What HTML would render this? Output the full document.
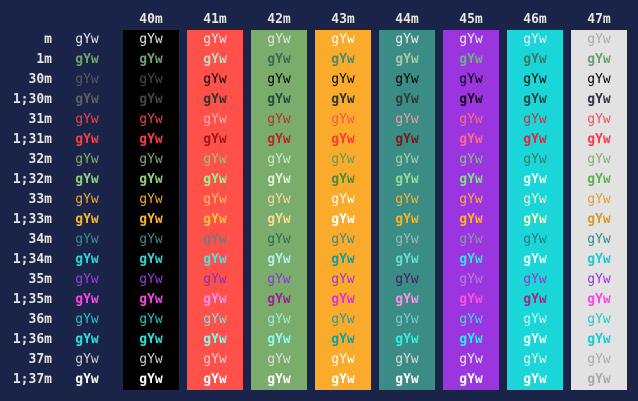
<!DOCTYPE html>
<html><head><meta charset="utf-8"><style>
body{margin:0;width:638px;height:401px;background:#1a2448;overflow:hidden;font-family:"DejaVu Sans Mono","Liberation Mono",monospace;font-size:13px;position:relative}
.strip{position:absolute;top:30px;height:360px;width:56px}
.h{position:absolute;top:11px;width:56px;text-align:center;color:#e6e6e6;font-weight:bold;line-height:18px}
.r{position:absolute;left:0;width:638px;height:20px;line-height:20px}
.r span{position:absolute;top:0;text-align:center;width:56px}
.r .l{left:0;width:52px;text-align:right;color:#e6e6e6;font-weight:bold}
.c0{left:59px}.c1{left:123px}.c2{left:187px}.c3{left:251px}.c4{left:315px}.c5{left:379px}.c6{left:443px}.c7{left:507px}.c8{left:571px}
.b{font-weight:bold}
</style></head><body>
<div class="strip" style="left:123px;background:#000"></div>
<div class="strip" style="left:187px;background:#ff5149"></div>
<div class="strip" style="left:251px;background:#7aac6c"></div>
<div class="strip" style="left:315px;background:#fbab2c"></div>
<div class="strip" style="left:379px;background:#3a8c84"></div>
<div class="strip" style="left:443px;background:#9b35e0"></div>
<div class="strip" style="left:507px;background:#1ad6d8"></div>
<div class="strip" style="left:571px;background:#e2e2e2"></div>
<div class="h" style="left:123px">40m</div><div class="h" style="left:187px">41m</div><div class="h" style="left:251px">42m</div><div class="h" style="left:315px">43m</div><div class="h" style="left:379px">44m</div><div class="h" style="left:443px">45m</div><div class="h" style="left:507px">46m</div><div class="h" style="left:571px">47m</div>

<div class="r" style="top:30px;color:#e8e8e8"><span class="l">m</span><span class="c0">gYw</span><span class="c1">gYw</span><span class="c2" style="color:#f0e8e8">gYw</span><span class="c3" style="color:#dde8dd">gYw</span><span class="c4" style="color:#fff">gYw</span><span class="c5" style="color:#eee">gYw</span><span class="c6" style="color:#eee">gYw</span><span class="c7" style="color:#eef">gYw</span><span class="c8" style="color:#aaa">gYw</span></div>
<div class="r b" style="top:50px;color:#6da46c"><span class="l">1m</span><span class="c0">gYw</span><span class="c1">gYw</span><span class="c2" style="color:#b8dcc0">gYw</span><span class="c3" style="color:#3a6a50">gYw</span><span class="c4" style="color:#4a8a6a">gYw</span><span class="c5" style="color:#a8c8a8">gYw</span><span class="c6" style="color:#70b080">gYw</span><span class="c7" style="color:#3a7a60">gYw</span><span class="c8" style="color:#6aa070">gYw</span></div>
<div class="r" style="top:70px;color:#5a5a5a"><span class="l">30m</span><span class="c0">gYw</span><span class="c1" style="color:#4a4a4a">gYw</span><span class="c2" style="color:#000">gYw</span><span class="c3" style="color:#000">gYw</span><span class="c4" style="color:#000">gYw</span><span class="c5" style="color:#000">gYw</span><span class="c6" style="color:#000">gYw</span><span class="c7" style="color:#000">gYw</span><span class="c8" style="color:#000">gYw</span></div>
<div class="r b" style="top:90px;color:#5a625a"><span class="l">1;30m</span><span class="c0">gYw</span><span class="c1" style="color:#3c4c3c">gYw</span><span class="c2" style="color:#2a3a30">gYw</span><span class="c3" style="color:#2a4a3a">gYw</span><span class="c4" style="color:#333">gYw</span><span class="c5" style="color:#2a4038">gYw</span><span class="c6" style="color:#1a0a20">gYw</span><span class="c7" style="color:#2a4a48">gYw</span><span class="c8" style="color:#334">gYw</span></div>
<div class="r" style="top:110px;color:#f5424b"><span class="l">31m</span><span class="c0">gYw</span><span class="c1">gYw</span><span class="c2" style="color:#ffb0b0">gYw</span><span class="c3" style="color:#b83030">gYw</span><span class="c4" style="color:#ff5050">gYw</span><span class="c5" style="color:#f09a9a">gYw</span><span class="c6" style="color:#ff7070">gYw</span><span class="c7" style="color:#d03040">gYw</span><span class="c8" style="color:#ff4a50">gYw</span></div>
<div class="r b" style="top:130px;color:#ff3a44"><span class="l">1;31m</span><span class="c0">gYw</span><span class="c1">gYw</span><span class="c2" style="color:#a01818">gYw</span><span class="c3" style="color:#b82828">gYw</span><span class="c4" style="color:#ff3838">gYw</span><span class="c5" style="color:#7a1a1a">gYw</span><span class="c6" style="color:#ff6a80">gYw</span><span class="c7" style="color:#e02838">gYw</span><span class="c8" style="color:#ff3848">gYw</span></div>
<div class="r" style="top:150px;color:#7fb06f"><span class="l">32m</span><span class="c0">gYw</span><span class="c1">gYw</span><span class="c2" style="color:#90c880">gYw</span><span class="c3" style="color:#d0e8c8">gYw</span><span class="c4" style="color:#5a9a60">gYw</span><span class="c5" style="color:#a8d0a8">gYw</span><span class="c6" style="color:#80c080">gYw</span><span class="c7" style="color:#3a7a5a">gYw</span><span class="c8" style="color:#80b070">gYw</span></div>
<div class="r b" style="top:170px;color:#8fd07f"><span class="l">1;32m</span><span class="c0">gYw</span><span class="c1">gYw</span><span class="c2" style="color:#a0f090">gYw</span><span class="c3" style="color:#d8f0d0">gYw</span><span class="c4" style="color:#4a8a40">gYw</span><span class="c5" style="color:#90e090">gYw</span><span class="c6" style="color:#80e080">gYw</span><span class="c7" style="color:#e0fff0">gYw</span><span class="c8" style="color:#60b050">gYw</span></div>
<div class="r" style="top:190px;color:#f7a92c"><span class="l">33m</span><span class="c0">gYw</span><span class="c1">gYw</span><span class="c2" style="color:#ffc060">gYw</span><span class="c3" style="color:#f8d8a0">gYw</span><span class="c4" style="color:#fff">gYw</span><span class="c5" style="color:#ffb030">gYw</span><span class="c6" style="color:#ffb030">gYw</span><span class="c7" style="color:#f8f0d0">gYw</span><span class="c8" style="color:#e0a030">gYw</span></div>
<div class="r b" style="top:210px;color:#ffb520"><span class="l">1;33m</span><span class="c0">gYw</span><span class="c1">gYw</span><span class="c2" style="color:#ffc040">gYw</span><span class="c3" style="color:#ffd890">gYw</span><span class="c4" style="color:#fff">gYw</span><span class="c5" style="color:#ffb020">gYw</span><span class="c6" style="color:#ffb020">gYw</span><span class="c7" style="color:#fff0c0">gYw</span><span class="c8" style="color:#d89a28">gYw</span></div>
<div class="r" style="top:230px;color:#3a8f8f"><span class="l">34m</span><span class="c0">gYw</span><span class="c1">gYw</span><span class="c2" style="color:#3a8a90">gYw</span><span class="c3" style="color:#2a6a60">gYw</span><span class="c4" style="color:#3a8a90">gYw</span><span class="c5" style="color:#a0b8b0">gYw</span><span class="c6" style="color:#80a0a0">gYw</span><span class="c7" style="color:#2a7a78">gYw</span><span class="c8" style="color:#2a8a88">gYw</span></div>
<div class="r b" style="top:250px;color:#2ad8d8"><span class="l">1;34m</span><span class="c0">gYw</span><span class="c1">gYw</span><span class="c2" style="color:#50e0e0">gYw</span><span class="c3" style="color:#b0f0e8">gYw</span><span class="c4" style="color:#1a9a9a">gYw</span><span class="c5" style="color:#60e0d8">gYw</span><span class="c6" style="color:#30e0e0">gYw</span><span class="c7" style="color:#e0fff8">gYw</span><span class="c8" style="color:#20c8d0">gYw</span></div>
<div class="r" style="top:270px;color:#9b3de0"><span class="l">35m</span><span class="c0">gYw</span><span class="c1">gYw</span><span class="c2" style="color:#8030c0">gYw</span><span class="c3" style="color:#9030e0">gYw</span><span class="c4" style="color:#a030e0">gYw</span><span class="c5" style="color:#4a1a6a">gYw</span><span class="c6" style="color:#b880d8">gYw</span><span class="c7" style="color:#a030d0">gYw</span><span class="c8" style="color:#9a30e0">gYw</span></div>
<div class="r b" style="top:290px;color:#ff44e6"><span class="l">1;35m</span><span class="c0">gYw</span><span class="c1">gYw</span><span class="c2" style="color:#ff90f0">gYw</span><span class="c3" style="color:#a02090">gYw</span><span class="c4" style="color:#e030e0">gYw</span><span class="c5" style="color:#ff90e8">gYw</span><span class="c6" style="color:#ff50e0">gYw</span><span class="c7" style="color:#a02880">gYw</span><span class="c8" style="color:#ff40f0">gYw</span></div>
<div class="r" style="top:310px;color:#25c8c8"><span class="l">36m</span><span class="c0">gYw</span><span class="c1">gYw</span><span class="c2" style="color:#80e0e0">gYw</span><span class="c3" style="color:#a0e8e0">gYw</span><span class="c4" style="color:#2a9aa0">gYw</span><span class="c5" style="color:#70d0d0">gYw</span><span class="c6" style="color:#40d8d8">gYw</span><span class="c7" style="color:#d0f8f8">gYw</span><span class="c8" style="color:#20c8d0">gYw</span></div>
<div class="r b" style="top:330px;color:#1ee8e0"><span class="l">1;36m</span><span class="c0">gYw</span><span class="c1">gYw</span><span class="c2" style="color:#80f8f0">gYw</span><span class="c3" style="color:#90f8f0">gYw</span><span class="c4" style="color:#10a0a0">gYw</span><span class="c5" style="color:#30f0e0">gYw</span><span class="c6" style="color:#20f0f0">gYw</span><span class="c7" style="color:#e0fff8">gYw</span><span class="c8" style="color:#10d0d8">gYw</span></div>
<div class="r" style="top:350px;color:#d0d0d0"><span class="l">37m</span><span class="c0">gYw</span><span class="c1">gYw</span><span class="c2" style="color:#f0d0d0">gYw</span><span class="c3" style="color:#dddddd">gYw</span><span class="c4" style="color:#fff">gYw</span><span class="c5" style="color:#ddd">gYw</span><span class="c6" style="color:#eee">gYw</span><span class="c7" style="color:#e8f8f8">gYw</span><span class="c8" style="color:#aaa">gYw</span></div>
<div class="r b" style="top:370px;color:#ffffff"><span class="l">1;37m</span><span class="c0">gYw</span><span class="c1">gYw</span><span class="c2">gYw</span><span class="c3">gYw</span><span class="c4">gYw</span><span class="c5">gYw</span><span class="c6">gYw</span><span class="c7">gYw</span><span class="c8" style="color:#aaa">gYw</span></div>
</body></html>
